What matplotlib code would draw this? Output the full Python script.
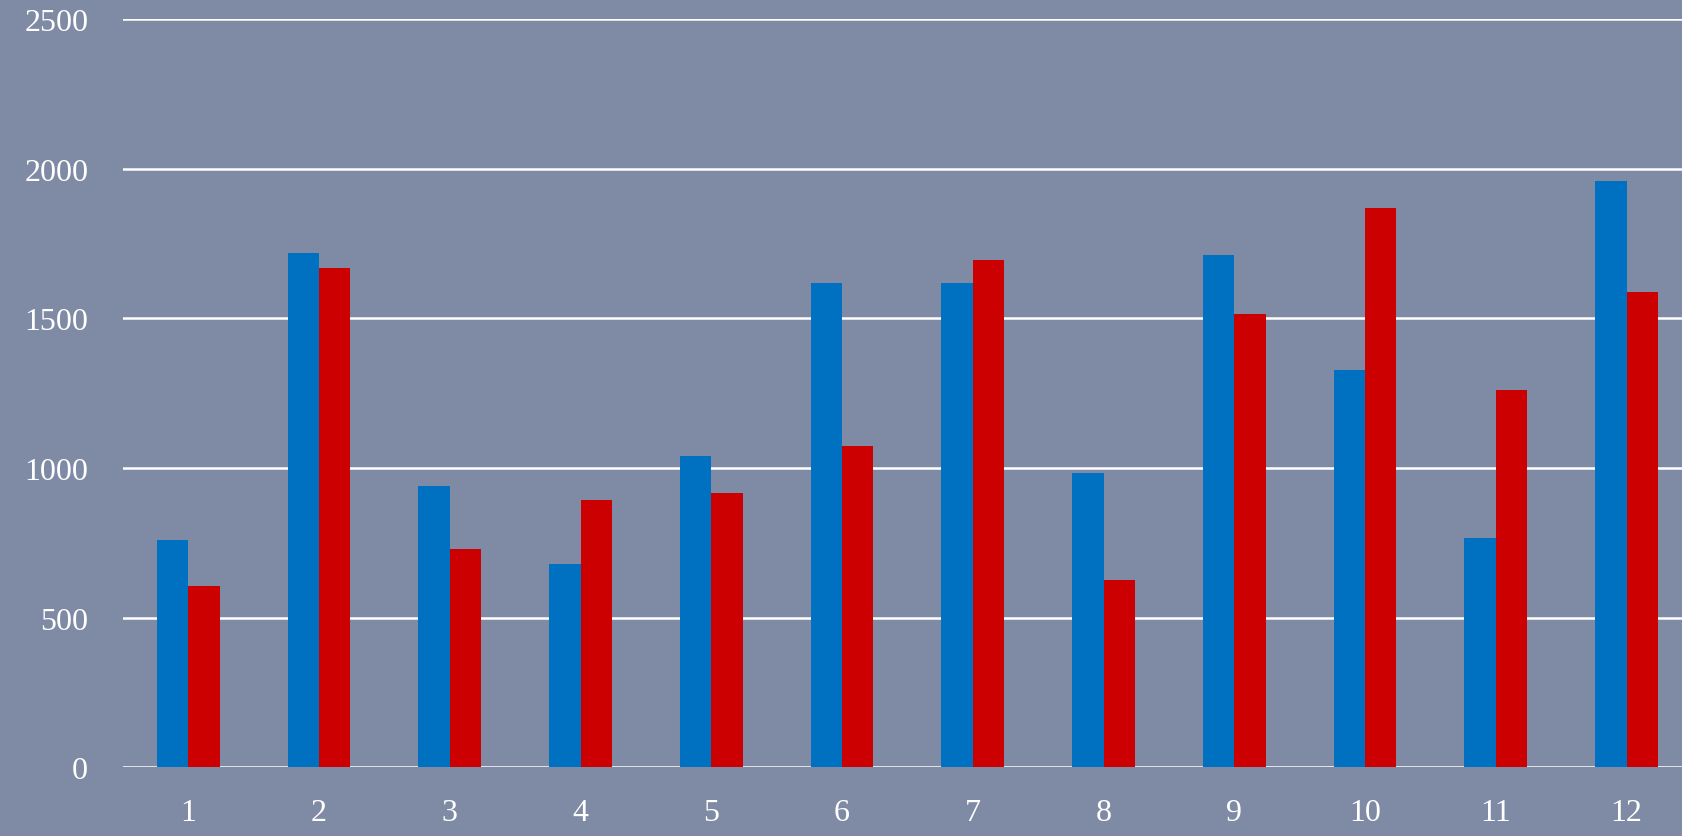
import matplotlib.pyplot as plt
import numpy as np

# データ
months = ['1', '2', '3', '4', '5', '6', '7', '8', '9', '10', '11', '12']
series_blue = [758, 1720, 941, 679, 1041, 1619, 1619, 984, 1712, 1328, 765, 1960]
series_red = [607, 1670, 729, 894, 916, 1073, 1695, 625, 1515, 1870, 1260, 1587]
y_ticks = [0, 500, 1000, 1500, 2000, 2500]

bg = '#7f8aa5'
plt.rcParams['font.family'] = ['Liberation Serif', 'DejaVu Serif']

fig = plt.figure(figsize=(16.82, 8.37), dpi=100, facecolor=bg)
ax = fig.add_axes([0.0731, 0.0824, 0.9328, 0.8932])
ax.set_facecolor(bg)

x = np.arange(len(months))
w = 0.24
ax.bar(x - w / 2, series_blue, width=w, color='#0070c0', zorder=3)
ax.bar(x + w / 2, series_red, width=w, color='#cc0000', zorder=3)

ax.set_xlim(-0.5, len(months) - 0.5)
ax.set_ylim(0, 2500)
ax.set_yticks(y_ticks)
ax.set_yticklabels([str(v) for v in y_ticks])
ax.set_xticks(x)
ax.set_xticklabels(months)
ax.grid(axis='y', color='white', linewidth=1.8, zorder=1)
ax.tick_params(axis='both', length=0, colors='white', labelsize=23)
ax.tick_params(axis='y', pad=25)
ax.tick_params(axis='x', pad=22)
for s in ax.spines.values():
    s.set_visible(False)

fig.savefig('out.png', dpi=100, facecolor=bg)
